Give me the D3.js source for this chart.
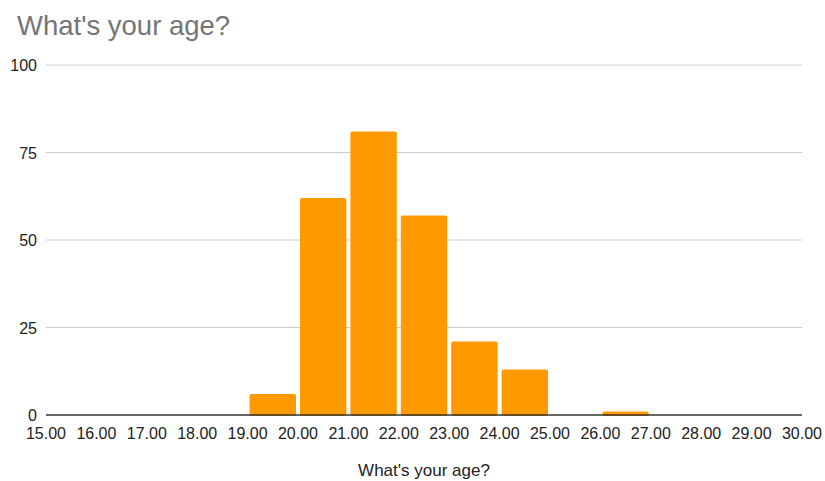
<!DOCTYPE html>
<html>
<head>
<meta charset="utf-8">
<script src="https://cdn.jsdelivr.net/npm/d3@7"></script>
<style>
  body { margin: 0; background: #fff; }
  svg { font-family: "Liberation Sans", Arial, sans-serif; }
</style>
</head>
<body>
<svg width="825" height="481"></svg>
<script>
// histogram bins (lower edge) and counts
const binStarts = [15, 16, 17, 18, 19, 20, 21, 22, 23, 24, 25, 26, 27, 28, 29];
const counts    = [0, 0, 0, 0, 6, 62, 81, 57, 21, 13, 0, 1, 0, 0, 0];
const xTicks = [15, 16, 17, 18, 19, 20, 21, 22, 23, 24, 25, 26, 27, 28, 29, 30];
const yTicks = [0, 25, 50, 75, 100];

const svg = d3.select("svg");
const margin = { left: 46, right: 23, top: 65, bottom: 66 };
const width = 825, height = 481;

const x = d3.scaleLinear().domain([15, 30]).range([margin.left, width - margin.right]);
const y = d3.scaleLinear().domain([0, 100]).range([height - margin.bottom, margin.top]);

svg.append("text")
    .attr("x", 17).attr("y", 35)
    .attr("font-size", 27.5)
    .attr("fill", "#757575")
    .text("What's your age?");

// gridlines
svg.selectAll(".grid")
    .data(yTicks.filter(d => d > 0))
    .enter().append("line")
    .attr("x1", x(15)).attr("x2", x(30))
    .attr("y1", d => y(d)).attr("y2", d => y(d))
    .attr("stroke", "#cccccc").attr("stroke-width", 1);

svg.selectAll(".ylab")
    .data(yTicks)
    .enter().append("text")
    .attr("x", 37).attr("y", d => y(d) + 6)
    .attr("text-anchor", "end")
    .attr("font-size", 16)
    .attr("fill", "#222")
    .text(d => d);

const bins = binStarts.map((s, i) => ({ s: s, v: counts[i] })).filter(d => d.v > 0);

svg.selectAll(".bar")
    .data(bins)
    .enter().append("rect")
    .attr("x", d => x(d.s) + 2)
    .attr("width", d => x(d.s + 1) - x(d.s) - 4)
    .attr("y", d => y(d.v))
    .attr("height", d => y(0) - y(d.v) + 1)
    .attr("rx", 2)
    .attr("fill", "#ff9900");

svg.append("line")
    .attr("x1", x(15)).attr("x2", x(30))
    .attr("y1", y(0)).attr("y2", y(0))
    .attr("stroke", "#333").attr("stroke-width", 1.3);

svg.selectAll(".xlab")
    .data(xTicks)
    .enter().append("text")
    .attr("x", d => x(d)).attr("y", y(0) + 24)
    .attr("text-anchor", "middle")
    .attr("font-size", 16)
    .attr("fill", "#222")
    .text(d => d.toFixed(2));

svg.append("text")
    .attr("x", 424).attr("y", 476)
    .attr("text-anchor", "middle")
    .attr("font-size", 17)
    .attr("fill", "#222")
    .text("What's your age?");
</script>
</body>
</html>
